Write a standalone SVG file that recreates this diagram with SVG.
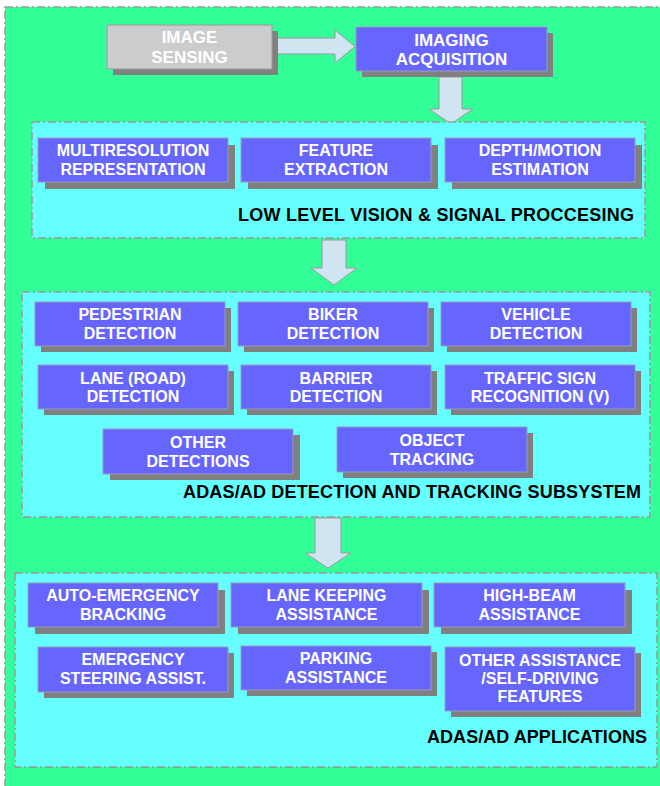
<svg xmlns="http://www.w3.org/2000/svg" width="660" height="786" viewBox="0 0 660 786">
<style>
.bg{fill:#33FF99;stroke:#999999;stroke-width:1.5;stroke-dasharray:8 3 2 3}
.panel{fill:#66FFFF;stroke:#999999;stroke-width:1.5;stroke-dasharray:8 3 2 3}
.sh{fill:#808080}
.box{fill:#6666FF;stroke:#9999BB;stroke-width:1}
.gbox{fill:#CCCCCC;stroke:#999999;stroke-width:1}
.arr{fill:#CFE5F2;stroke:#999999;stroke-width:1}
.t{font-family:"Liberation Sans",Arial,sans-serif;font-weight:bold;font-size:16px;fill:#FFFFFF;text-anchor:middle}
.tb{font-size:17px}
.title{font-family:"Liberation Sans",Arial,sans-serif;font-weight:bold;font-size:18px;fill:#000000;text-anchor:end}
</style>
<rect class="bg" x="5" y="7" width="670" height="800"/>

<g id="connectors">
<polygon class="arr" points="273,38 335,38 335,30 355,46.5 335,63 335,54 273,54"/>
<polygon class="arr" points="439,77 462,77 462,109 473,109 451,124 429,109 439,109"/>
<polygon class="arr" points="322,240 346,240 346,268 357,268 334,285 311,268 322,268"/>
<polygon class="arr" points="315,518 341,518 341,553 351,553 328,568 305,553 315,553"/>
</g>

<g id="image-sensing">
<rect class="sh" x="113" y="31" width="165" height="44"/>
<rect class="gbox" x="107" y="25" width="165" height="44"/>
<text class="t tb" x="189.5" y="42.5">IMAGE</text>
<text class="t tb" x="189.5" y="63">SENSING</text>
</g>

<g id="imaging-acquisition">
<rect class="sh" x="362" y="33" width="191" height="44"/>
<rect class="box" x="356" y="27" width="191" height="44"/>
<text class="t tb" x="451.5" y="45.5">IMAGING</text>
<text class="t tb" x="451.5" y="65">ACQUISITION</text>
</g>

<g id="low-level-panel">
<rect class="panel" x="32" y="122" width="613" height="116"/>
<text class="title" x="634" y="221" textLength="396" lengthAdjust="spacing">LOW LEVEL VISION &amp; SIGNAL PROCCESING</text>
</g>
<g id="multiresolution">
<rect class="sh" x="45" y="145" width="190" height="44"/>
<rect class="box" x="38" y="138" width="190" height="44"/>
<text class="t" x="133" y="156">MULTIRESOLUTION</text>
<text class="t" x="133" y="174.5">REPRESENTATION</text>
</g>
<g id="feature-extraction">
<rect class="sh" x="248" y="145" width="190" height="44"/>
<rect class="box" x="241" y="138" width="190" height="44"/>
<text class="t" x="336" y="156">FEATURE</text>
<text class="t" x="336" y="174.5">EXTRACTION</text>
</g>
<g id="depth-motion">
<rect class="sh" x="452" y="145" width="190" height="44"/>
<rect class="box" x="445" y="138" width="190" height="44"/>
<text class="t" x="540" y="156">DEPTH/MOTION</text>
<text class="t" x="540" y="174.5">ESTIMATION</text>
</g>

<g id="detection-panel">
<rect class="panel" x="22" y="292" width="628" height="225"/>
<text class="title" x="641" y="498" textLength="458" lengthAdjust="spacing">ADAS/AD DETECTION AND TRACKING SUBSYSTEM</text>
</g>
<g id="pedestrian">
<rect class="sh" x="41" y="308" width="190" height="44"/>
<rect class="box" x="35" y="302" width="190" height="44"/>
<text class="t" x="130" y="320">PEDESTRIAN</text>
<text class="t" x="130" y="339">DETECTION</text>
</g>
<g id="biker">
<rect class="sh" x="244" y="308" width="190" height="44"/>
<rect class="box" x="238" y="302" width="190" height="44"/>
<text class="t" x="333" y="320">BIKER</text>
<text class="t" x="333" y="339">DETECTION</text>
</g>
<g id="vehicle">
<rect class="sh" x="447" y="308" width="190" height="44"/>
<rect class="box" x="441" y="302" width="190" height="44"/>
<text class="t" x="536" y="320">VEHICLE</text>
<text class="t" x="536" y="339">DETECTION</text>
</g>
<g id="lane">
<rect class="sh" x="44" y="371" width="190" height="44"/>
<rect class="box" x="38" y="365" width="190" height="44"/>
<text class="t" x="133" y="383.5">LANE (ROAD)</text>
<text class="t" x="133" y="402">DETECTION</text>
</g>
<g id="barrier">
<rect class="sh" x="247" y="371" width="190" height="44"/>
<rect class="box" x="241" y="365" width="190" height="44"/>
<text class="t" x="336" y="383.5">BARRIER</text>
<text class="t" x="336" y="402">DETECTION</text>
</g>
<g id="traffic-sign">
<rect class="sh" x="451" y="371" width="190" height="44"/>
<rect class="box" x="445" y="365" width="190" height="44"/>
<text class="t" x="540" y="383.5">TRAFFIC SIGN</text>
<text class="t" x="540" y="402">RECOGNITION (V)</text>
</g>
<g id="other-detections">
<rect class="sh" x="110" y="435" width="190" height="45"/>
<rect class="box" x="103" y="429" width="190" height="45"/>
<text class="t" x="198" y="447.5">OTHER</text>
<text class="t" x="198" y="466.5">DETECTIONS</text>
</g>
<g id="object-tracking">
<rect class="sh" x="343" y="433" width="190" height="45"/>
<rect class="box" x="337" y="427" width="190" height="45"/>
<text class="t" x="432" y="445.5">OBJECT</text>
<text class="t" x="432" y="465">TRACKING</text>
</g>

<g id="applications-panel">
<rect class="panel" x="15" y="573" width="642" height="194"/>
<text class="title" x="647" y="743" textLength="220" lengthAdjust="spacing">ADAS/AD APPLICATIONS</text>
</g>
<g id="auto-emergency">
<rect class="sh" x="35" y="590" width="190" height="44"/>
<rect class="box" x="28" y="583" width="190" height="44"/>
<text class="t" x="123" y="601">AUTO-EMERGENCY</text>
<text class="t" x="123" y="619.5">BRACKING</text>
</g>
<g id="lane-keeping">
<rect class="sh" x="238" y="590" width="191" height="44"/>
<rect class="box" x="231" y="583" width="191" height="44"/>
<text class="t" x="326.5" y="601">LANE KEEPING</text>
<text class="t" x="326.5" y="619.5">ASSISTANCE</text>
</g>
<g id="high-beam">
<rect class="sh" x="441" y="590" width="191" height="44"/>
<rect class="box" x="434" y="583" width="191" height="44"/>
<text class="t" x="529.5" y="601">HIGH-BEAM</text>
<text class="t" x="529.5" y="619.5">ASSISTANCE</text>
</g>
<g id="emergency-steering">
<rect class="sh" x="44" y="653" width="190" height="45"/>
<rect class="box" x="38" y="647" width="190" height="45"/>
<text class="t" x="133" y="665">EMERGENCY</text>
<text class="t" x="133" y="683.5">STEERING ASSIST.</text>
</g>
<g id="parking">
<rect class="sh" x="247" y="652" width="190" height="44"/>
<rect class="box" x="241" y="646" width="190" height="44"/>
<text class="t" x="336" y="664">PARKING</text>
<text class="t" x="336" y="682.5">ASSISTANCE</text>
</g>
<g id="other-assistance">
<rect class="sh" x="451" y="653" width="190" height="64"/>
<rect class="box" x="445" y="647" width="190" height="64"/>
<text class="t" x="540" y="666">OTHER ASSISTANCE</text>
<text class="t" x="540" y="684">/SELF-DRIVING</text>
<text class="t" x="540" y="702">FEATURES</text>
</g>
</svg>
